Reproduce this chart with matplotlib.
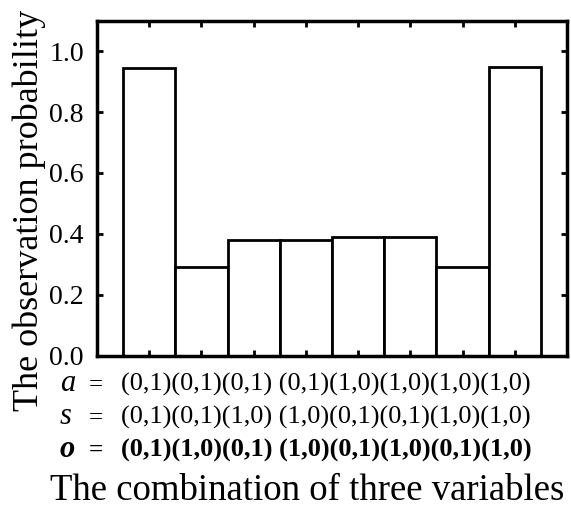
import numpy as np
from matplotlib import pyplot as plt

# observation probability for each (a, s, o) combination
probs = [0.945, 0.291, 0.379, 0.381, 0.390, 0.390, 0.291, 0.947]

a_vals = ['(0,1)', '(0,1)', '(0,1)', '(0,1)', '(1,0)', '(1,0)', '(1,0)', '(1,0)']
s_vals = ['(0,1)', '(0,1)', '(1,0)', '(1,0)', '(0,1)', '(0,1)', '(1,0)', '(1,0)']
o_vals = ['(0,1)', '(1,0)', '(0,1)', '(1,0)', '(0,1)', '(1,0)', '(0,1)', '(1,0)']

yticks = [0.0, 0.2, 0.4, 0.6, 0.8, 1.0]

plt.rcParams['font.family'] = ['Liberation Serif', 'DejaVu Serif']

W, H = 571, 509
fig = plt.figure(figsize=(W / 100, H / 100), dpi=100)


def fx(px):
    return px / W


def fy(py):
    return 1 - py / H


ax = fig.add_axes([fx(97), fy(355.7), fx(567) - fx(97), fy(20.7) - fy(355.7)])

x = np.arange(1, len(probs) + 1)
ax.bar(x, probs, width=1.0, color='white', edgecolor='black', linewidth=2)

ax.set_xlim(0, 9)
ax.set_ylim(0, 1.1)
ax.set_xticks(x)
ax.set_xticklabels([])
ax.set_yticks(yticks)
ax.set_yticklabels(['%.1f' % v for v in yticks], fontsize=20)
ax.tick_params(direction='in', top=True, right=True, length=4, width=2, pad=9.5)
for sp in ax.spines.values():
    sp.set_linewidth(2.5)

# label rows under the axis
def row(var, vals, y, bold=False):
    txt = ''.join(vals[:3]) + ' ' + ''.join(vals[3:])
    w = 'bold' if bold else 'normal'
    fig.text(fx(60), fy(y), var, fontsize=22, style='italic', weight=w, va='baseline')
    fig.text(fx(89), fy(y), '=', fontsize=18, weight=w, va='baseline')
    fig.text(fx(121), fy(y), txt, fontsize=19, weight=w, va='baseline')


row('a', a_vals, 391)
row('s', s_vals, 424)
row('o', o_vals, 457, bold=True)

fig.text(fx(307), fy(500), 'The combination of three variables', fontsize=26.5,
         ha='center', va='baseline')
fig.text(fx(29), fy(210), 'The observation probability', fontsize=26,
         rotation=90, ha='center', va='center')

plt.savefig('out.png', dpi=100)
